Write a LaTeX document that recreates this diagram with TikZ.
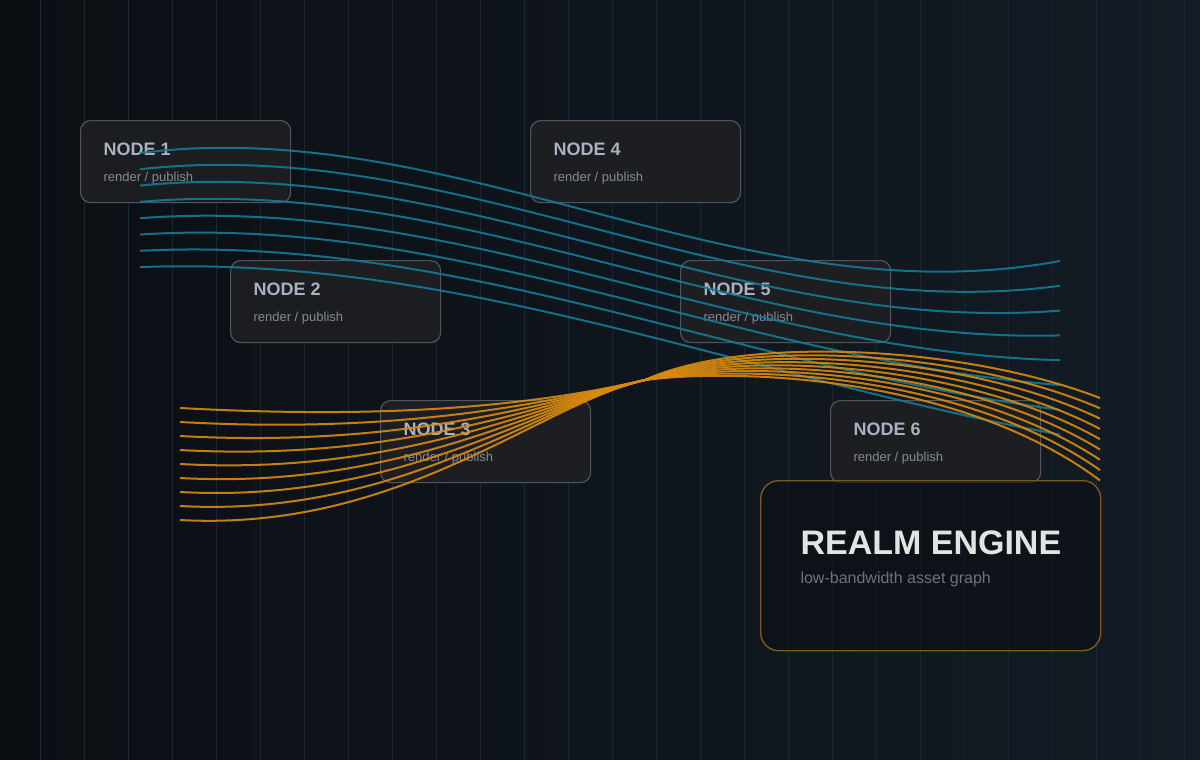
\documentclass[tikz,border=0pt]{standalone}
\usepackage{fontspec}
\setmainfont{Liberation Sans}
\begin{document}
\definecolor{bgA}{HTML}{0B0F14}
\definecolor{bgB}{HTML}{131B24}
\definecolor{gridc}{HTML}{1C2632}
\definecolor{boxf}{HTML}{1E1F22}
\definecolor{boxd}{HTML}{50555D}
\definecolor{ttl}{HTML}{A9B1C2}
\definecolor{sub}{HTML}{858A93}
\definecolor{teal}{HTML}{137C95}
\definecolor{amber}{HTML}{D98A10}
\definecolor{rbord}{HTML}{7A5A22}
\begin{tikzpicture}[x=1pt,y=-1pt,
  box/.style={draw=boxd,line width=1.2pt,fill=boxf,fill opacity=0.92,rounded corners=10pt,minimum width=210pt,minimum height=82pt,inner sep=0pt},
  ttl/.style={anchor=base west,text=ttl,font=\fontsize{18}{18}\selectfont\bfseries},
  sub/.style={anchor=base west,text=sub,font=\fontsize{13}{13}\selectfont},
  tl/.style={draw=teal,line width=2pt,opacity=0.9},
  al/.style={draw=amber,line width=2pt,opacity=0.9}]
\useasboundingbox (0,0) rectangle (1200,760);
\shade[left color=bgA,right color=bgB] (0,0) rectangle (1200,760);
\foreach \i in {0,...,26}{\draw[gridc,line width=0.8pt] (40+44*\i,0) -- (40+44*\i,760);}
\foreach \n/\x/\y in {1/80/120,2/230/260,3/380/400,4/530/120,5/680/260,6/830/400}{
  \node[box,anchor=north west] (n\n) at (\x,\y) {};
  \node[ttl] (t\n) at (\x+20,\y+35) {NODE \n};
  \node[sub] (s\n) at (\x+20,\y+61) {render / publish};
}
\node[draw=rbord,line width=1.4pt,fill=bgA,fill opacity=0.6,rounded corners=18pt,minimum width=340pt,minimum height=170pt,anchor=north west] (re) at (760,480) {};
\node[anchor=base west,text=white!78!gray,font=\fontsize{34}{34}\selectfont\bfseries] (ret) at (797,554) {REALM ENGINE};
\node[anchor=base west,text=sub!120,font=\fontsize{16}{16}\selectfont] (res) at (797,583) {low-bandwidth asset graph};
\foreach \i in {0,...,7}{
  \pgfmathsetmacro\ys{153+16.3*\i}
  \pgfmathsetmacro\ye{261+24.8*\i}
  \pgfmathsetmacro\cb{320+8*\i}
  \coordinate (ta\i) at (140,\ys);
  \coordinate (tb\i) at (1060,\ye);
  \draw[tl] (ta\i) .. controls (460,\ys-40+4*\i) and (740,\cb) .. (tb\i);
}
\foreach \i in {0,...,8}{
  \pgfmathsetmacro\ys{408+14*\i}
  \pgfmathsetmacro\ye{398+10.3*\i}
  \pgfmathsetmacro\cm{336+4*\i}
  \coordinate (oa\i) at (180,\ys);
  \coordinate (om\i) at (645,380);
  \coordinate (ob\i) at (1100,\ye);
  \draw[al] (oa\i) .. controls (400,\ys+12) and (540,404) .. (om\i)
     .. controls (740,\cm) and (960,\cm+8) .. (ob\i);
}
\end{tikzpicture}
\end{document}
